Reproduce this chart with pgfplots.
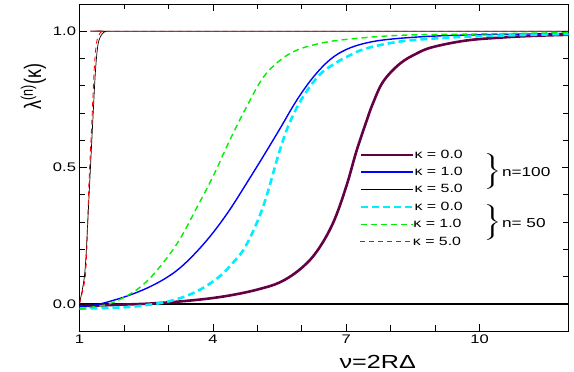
\documentclass[border=0pt]{standalone}
\usepackage{pgfplots}
\pgfplotsset{compat=1.18}
\usepackage{graphicx}
\usepackage{fontspec}
\setmainfont{Liberation Sans}[FakeStretch=1.33]
\newfontfamily\plainfont{Liberation Sans}
\definecolor{cpurple}{RGB}{102,0,68}
\definecolor{cblue}{RGB}{0,0,255}
\definecolor{ccyan}{RGB}{0,238,255}
\definecolor{cgreen}{RGB}{0,240,0}
\definecolor{cred}{RGB}{255,0,0}
\pgfplotsset{
 sPurple/.style={draw=cpurple, line width=2.6bp},
 sBlue/.style={draw=cblue, line width=1.4bp},
 sBlack/.style={draw=black, line width=0.7bp},
 sCyan/.style={draw=ccyan, line width=2.6bp, dash pattern=on 7bp off 4bp},
 sGreen/.style={draw=cgreen, line width=1.4bp, dash pattern=on 6bp off 4bp},
 sRed/.style={draw=cred, line width=0.9bp, dash pattern=on 5bp off 4bp},
 myleg/.style={legend style={at={(axis cs:7.31,#1)}, anchor=north west, draw=none, fill=none, inner sep=0pt, outer sep=0pt, font=\fontsize{12}{14}\selectfont, row sep=5.2bp, nodes={inner sep=0pt, text height=9.5bp, text depth=2.5bp}},
   legend cell align=left,
   legend image code/.code={\draw[##1] (0bp,0bp) -- (43bp,0bp); \path (0bp,0bp) -- (52bp,0bp);}},
 base/.style={scale only axis, width=489bp, height=327bp, xmin=1, xmax=12, ymin=-0.1, ymax=1.1},
}
\begin{document}
\begin{tikzpicture}
\begin{axis}[
 base,
 xtick={1,4,7,10}, minor x tick num=2,
 ytick={0,0.5,1}, minor y tick num=4,
 major tick length=7bp, minor tick length=5.5bp,
 tick style={black, line width=0.6bp},
 axis line style={line width=0.8bp},
 /pgf/number format/assume math mode=true,
 ticklabel style={font=\fontsize{12.5}{14}\selectfont},
 yticklabel style={/pgf/number format/fixed, /pgf/number format/fixed zerofill, /pgf/number format/precision=1},
 xlabel={\fontsize{19}{21}\selectfont ν=2RΔ},
 xlabel style={at={(ticklabel cs:0.61)}, anchor=north, inner sep=1bp, yshift=-7bp},
 ylabel={\plainfont\fontsize{18}{20}\selectfont\scalebox{1}[1.33]{λ\textsuperscript{(n)}(κ)}},
 ylabel style={at={(ticklabel cs:0.747)}},
 myleg=0.568,
]
\addplot[draw=black, line width=2bp, forget plot] coordinates {(1,0) (12,0)};
% kappa=0, n=100
\addplot[sPurple, smooth, tension=0.6, forget plot] coordinates {
(1,-0.008) (1.5,-0.006) (2,-0.003) (2.5,0.0) (3,0.005) (3.5,0.012) (4,0.021) (4.5,0.034) (5,0.052) (5.5,0.078) (5.95,0.125) (6.33,0.19) (6.7,0.295) (7.0,0.43) (7.23,0.56) (7.46,0.672) (7.6,0.735) (7.83,0.815) (8.2,0.88) (8.58,0.918) (8.95,0.942) (9.7,0.966) (10.5,0.977) (11.2,0.983) (12,0.987)};
% kappa=1, n=100
\addplot[sBlue, smooth, tension=0.6, forget plot] coordinates {
(1,-0.011) (1.4,-0.003) (1.75,0.012) (2.1,0.03) (2.5,0.056) (2.9,0.09) (3.25,0.13) (3.63,0.19) (4.0,0.26) (4.38,0.345) (4.75,0.44) (5.13,0.54) (5.5,0.64) (5.88,0.745) (6.25,0.83) (6.63,0.895) (7.0,0.933) (7.45,0.957) (8.0,0.971) (8.95,0.982) (10,0.987) (12,0.992)};
% kappa=5, n=100
\addplot[sBlack, smooth, tension=0.5, forget plot] coordinates {
(1,0) (1.1,0.087) (1.15,0.185) (1.225,0.43) (1.30,0.674) (1.36,0.857) (1.42,0.955) (1.51,0.99) (1.62,1.0) (2,1.0) (12,1.0)};
% kappa=0, n=50
\addplot[sCyan, smooth, tension=0.6, forget plot] coordinates {
(1,-0.018) (1.5,-0.016) (2.1,-0.012) (2.5,-0.005) (2.9,0.005) (3.25,0.02) (3.5,0.035) (3.8,0.06) (4.15,0.1) (4.45,0.15) (4.75,0.215) (5.13,0.356) (5.5,0.56) (5.73,0.665) (6.03,0.76) (6.4,0.84) (6.7,0.877) (7.0,0.905) (7.45,0.937) (8.2,0.962) (8.95,0.973) (10,0.982) (12,0.99)};
% kappa=1, n=50
\addplot[sGreen, smooth, tension=0.6, forget plot] coordinates {
(1,-0.02) (1.3,-0.012) (1.68,0.0) (2.13,0.035) (2.5,0.08) (2.88,0.15) (3.25,0.235) (3.63,0.35) (4.0,0.466) (4.38,0.60) (4.75,0.72) (5.13,0.83) (5.5,0.892) (5.88,0.93) (6.4,0.955) (7.0,0.97) (8.2,0.985) (10,0.99) (12,0.995)};
% kappa=5, n=50
\addplot[sRed, smooth, tension=0.5, forget plot] coordinates {
(1,0) (1.12,0.087) (1.16,0.185) (1.21,0.43) (1.28,0.674) (1.33,0.857) (1.38,0.955) (1.45,0.99) (1.55,1.0) (2,1.0) (12,1.0)};
\addlegendimage{sPurple}\addlegendentry{κ = 0.0}
\addlegendimage{sBlue}\addlegendentry{κ = 1.0}
\addlegendimage{sBlack}\addlegendentry{κ = 5.0}
\node[anchor=west, inner sep=0pt] at (axis cs:10.03,0.483) {\scalebox{2.0}[1]{$\left.\vrule height 17bp depth 17bp width 0pt\right\}$}};
\node[anchor=west, inner sep=0pt, font=\fontsize{13}{15}\selectfont] at (axis cs:10.5,0.483) {n=100};
\node[anchor=west, inner sep=0pt] at (axis cs:10.03,0.296) {\scalebox{2.0}[1]{$\left.\vrule height 17bp depth 17bp width 0pt\right\}$}};
\node[anchor=west, inner sep=0pt, font=\fontsize{13}{15}\selectfont] at (axis cs:10.5,0.296) {n= 50};
\coordinate (sw) at (rel axis cs:0,0);
\coordinate (ne) at (rel axis cs:1,1);
\end{axis}
\begin{axis}[base, hide axis, myleg=0.3765]
\addlegendimage{sCyan}\addlegendentry{κ = 0.0}
\end{axis}
\begin{axis}[base, hide axis, myleg=0.3134]
\addlegendimage{sGreen}\addlegendentry{κ = 1.0}
\end{axis}
\begin{axis}[base, hide axis, myleg=0.2503]
\addlegendimage{sRed}\addlegendentry{κ = 5.0}
\end{axis}
\pgfresetboundingbox
\path ([shift={(-79.5bp,-41bp)}]sw) rectangle ([shift={(5.5bp,4bp)}]ne);
\end{tikzpicture}
\end{document}
